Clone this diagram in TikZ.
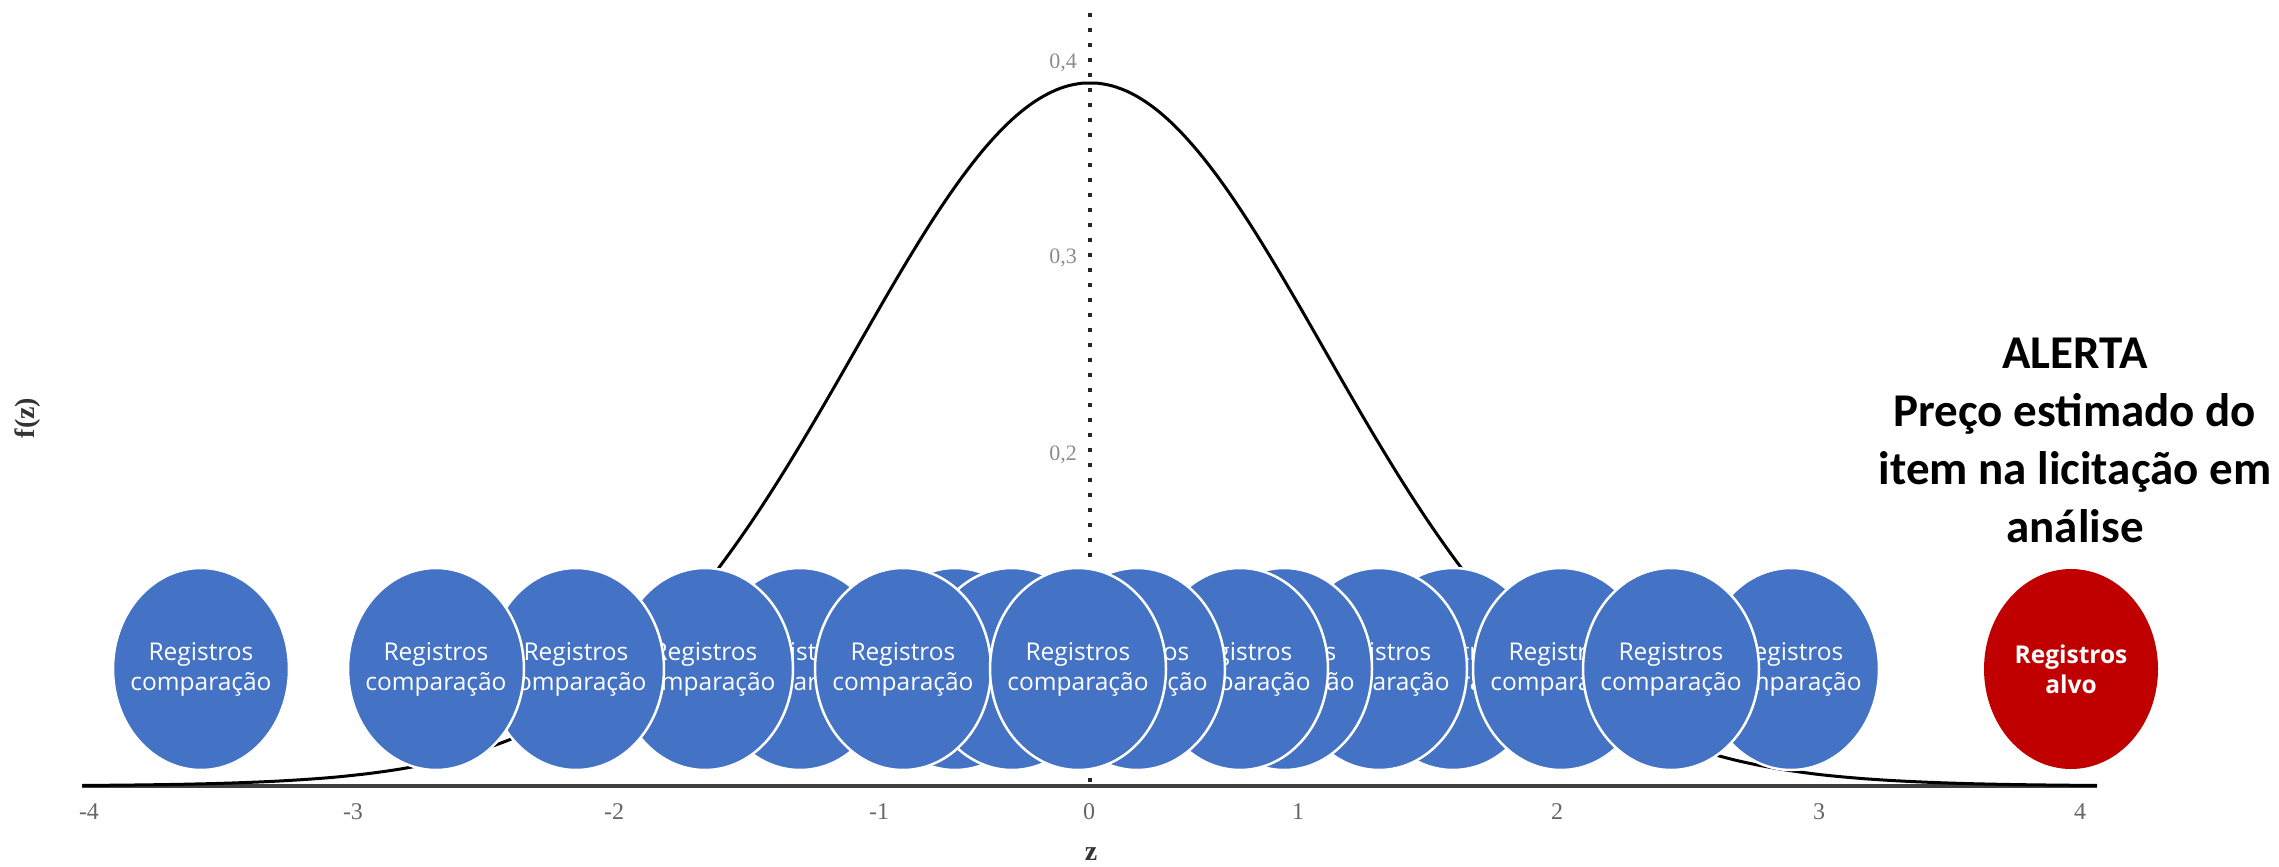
\documentclass[tikz,border=0pt]{standalone}
\usepackage{fontspec}
\setmainfont{Liberation Serif}
\newfontfamily\regfont{Open Sans}
\newfontfamily\alertfont{Carlito}
\usetikzlibrary{shapes.geometric}
\definecolor{regblue}{HTML}{4472C4}
\definecolor{alvored}{HTML}{C00000}
\begin{document}
\begin{tikzpicture}[x=1pt,y=-1pt,
  regtext/.style={text=white, font=\regfont\fontsize{24.5}{30}\selectfont, align=center, inner sep=0pt},
  alvotext/.style={text=white, font=\regfont\bfseries\fontsize{24.5}{30}\selectfont, align=center, inner sep=0pt},
  reg/.style={ellipse, fill=regblue, draw=white, line width=2.5pt, minimum width=176pt, minimum height=202pt, inner sep=0pt,
    label={[regtext]center:Registros\\comparação}},
  alvo/.style={ellipse, fill=alvored, minimum width=174pt, minimum height=200pt, inner sep=0pt,
    label={[alvotext]center:Registros\\alvo}},
  tick/.style={font=\fontsize{24}{28}\selectfont, text=black!60, inner sep=0pt},
  ytick/.style={font=\fontsize{22}{26}\selectfont, text=black!45, anchor=east, inner sep=0pt},
  axisline/.style={draw=black!75, line width=3.5pt},
  curve/.style={draw=black, line width=3pt},
  dashline/.style={draw=black!85, line width=3.5pt, dash pattern=on 4pt off 11pt},
  alerttext/.style={font=\alertfont\bfseries\fontsize{47}{58}\selectfont, align=center, inner sep=0pt}]
\fill[white] (0,0) rectangle (2279,867);
\useasboundingbox (0,0) rectangle (2279,867);

% axis, dashed mean line, density curve
\draw[axisline] (82,786) -- (2097,786);
\draw[dashline] (1090,13) -- (1090,786);
\draw[curve] plot[domain=-3.78:3.78, samples=241, smooth]
  ({1090+238*\x+2*\x*\x*\x},{786-703*exp(-\x*\x/2)});

% axis labels
\node[ytick] (y4) at (1077,63) {0,4};
\node[ytick] (y3) at (1077,258) {0,3};
\node[ytick] (y2) at (1077,455) {0,2};
\node[tick] (tm4) at (89,812) {-4};
\node[tick] (tm3) at (353,812) {-3};
\node[tick] (tm2) at (614,812) {-2};
\node[tick] (tm1) at (879,812) {-1};
\node[tick] (t0) at (1089,812) {0};
\node[tick] (t1) at (1298,812) {1};
\node[tick] (t2) at (1557,812) {2};
\node[tick] (t3) at (1819,812) {3};
\node[tick] (t4) at (2080,812) {4};
\node[font=\bfseries\fontsize{28}{32}\selectfont, text=black!80, rotate=90, inner sep=0pt] (fz) at (28,418) {f(z)};
\node[font=\bfseries\fontsize{28}{32}\selectfont, text=black!80, inner sep=0pt] (zl) at (1091,854) {z};

% comparison records (drawing order = stacking order)
\node[reg] (e14) at (1453,669) {};
\node[reg] (e13) at (1379,669) {};
\node[reg] (e12) at (1284,669) {};
\node[reg] (e11) at (1240,669) {};
\node[reg] (e10) at (1137,669) {};
\node[reg] (e7) at (955,669) {};
\node[reg] (e8) at (1012,669) {};
\node[reg] (e5) at (800,669) {};
\node[reg] (e4) at (705,669) {};
\node[reg] (e3) at (576,669) {};
\node[reg] (e2) at (436,669) {};
\node[reg] (e6) at (903,669) {};
\node[reg] (e9) at (1078,669) {};
\node[reg] (e15) at (1561,669) {};
\node[reg] (e17) at (1791,669) {};
\node[reg] (e16) at (1671,669) {};
\node[reg] (e1) at (201,669) {};

% target record and alert
\node[alvo] (target) at (2071,669) {};
\node[alerttext] (alerta) at (2075,440) {ALERTA\\Preço estimado do\\item na licitação em\\análise};
\end{tikzpicture}
\end{document}
